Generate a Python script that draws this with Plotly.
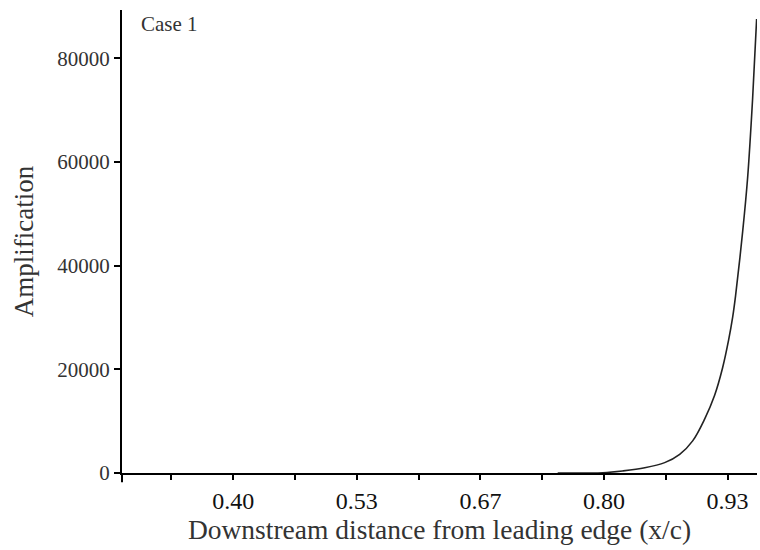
import plotly.graph_objects as go

# Amplification growth along the chord (Case 1)
x_pos = [0.75, 0.7986, 0.8202, 0.8439, 0.8654, 0.8816, 0.8956, 0.9085,
         0.9193, 0.9279, 0.9344, 0.9387, 0.9419, 0.9495, 0.9549, 0.9602, 0.9646]
amplification = [0, 60, 400, 1000, 2000, 3600, 6200, 10400,
                 15000, 20300, 25660, 30000, 34200, 46500, 57000, 72000, 87580]

x_tickvals = [0.3333, 0.4, 0.4667, 0.5333, 0.6, 0.6667, 0.7333, 0.8, 0.8667, 0.9333]
x_ticktext = ["", "0.40", "", "0.53", "", "0.67", "", "0.80", "", "0.93"]
y_tickvals = [0, 20000, 40000, 60000, 80000]
y_ticktext = ["0", "20000", "40000", "60000", "80000"]

serif = "Liberation Serif, Times New Roman, serif"

fig = go.Figure()
fig.add_trace(go.Scatter(
    x=x_pos, y=amplification, mode="lines",
    line=dict(color="#222222", width=1.6, shape="spline", smoothing=1.0),
    showlegend=False, hoverinfo="skip",
))

fig.update_layout(
    width=760, height=550,
    margin=dict(l=122, r=3, t=10, b=77),
    paper_bgcolor="white", plot_bgcolor="white",
    font=dict(family=serif, color="#222222"),
    xaxis=dict(
        range=[0.28, 0.965], showgrid=False, zeroline=False,
        showline=True, linecolor="black", linewidth=2,
        tickmode="array", tickvals=x_tickvals, ticktext=x_ticktext,
        ticks="outside", ticklen=5, tickwidth=1.5, tickcolor="black",
        tickfont=dict(size=24, family=serif, color="#111111"),
        title=dict(text="Downstream distance from leading edge (x/c)",
                   font=dict(size=27.5, family=serif, color="#333333"),
                   standoff=4),
    ),
    yaxis=dict(
        range=[0, 89300], showgrid=False, zeroline=False,
        showline=True, linecolor="black", linewidth=2,
        tickmode="array", tickvals=y_tickvals, ticktext=y_ticktext,
        ticks="outside", ticklen=6, tickwidth=1.5, tickcolor="black",
        tickfont=dict(size=21, family=serif, color="#333333"),
        title=dict(text="Amplification",
                   font=dict(size=27, family=serif, color="#333333"),
                   standoff=16),
    ),
    annotations=[dict(
        text="Case 1", xref="paper", yref="paper", x=0.027, y=1.0,
        xanchor="left", yanchor="top", showarrow=False,
        font=dict(size=21, family=serif, color="#333333"),
    )],
    shapes=[
        # short extension of the vertical axis below the baseline
        dict(type="line", xref="paper", yref="paper", x0=0, x1=0, y0=-0.02, y1=0,
             line=dict(color="black", width=2)),
    ],
)

fig.write_html("out.html")
